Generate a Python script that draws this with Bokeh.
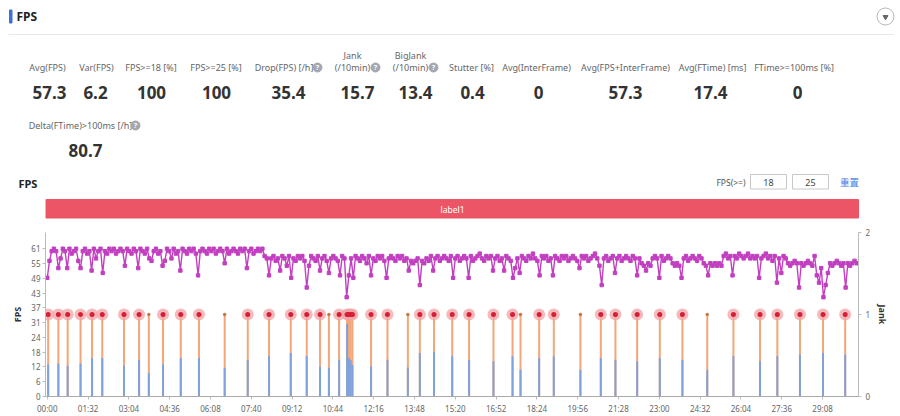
from bokeh.plotting import figure
from bokeh.models import Range1d, LinearAxis, FixedTicker
from bokeh.layouts import column
from bokeh.embed import file_html
from bokeh.resources import INLINE
from bokeh.core.properties import value

FONT = "Noto Sans"
CJK = "Noto Sans CJK SC"

# ---------------- data ----------------
STAT_LABELS = ["Avg(FPS)", "Var(FPS)", "FPS>=18 [%]", "FPS>=25 [%]", "Drop(FPS) [/h]",
               "Jank\n(/10min)", "BigJank\n(/10min)", "Stutter [%]", "Avg(InterFrame)",
               "Avg(FPS+InterFrame)", "Avg(FTime) [ms]", "FTime>=100ms [%]",
               "Delta(FTime)>100ms [/h]"]
STAT_VALUES = ["57.3", "6.2", "100", "100", "35.4", "15.7", "13.4", "0.4", "0",
               "57.3", "17.4", "0", "80.7"]
STAT_HELP = [False, False, False, False, True, True, True, False, False, False, False,
             False, True]

THRESHOLDS = ["18", "25"]
SEGMENT_LABEL = "label1"

SAMPLE_STEP = 5  # seconds between FPS samples
FPS = [
    49, 56, 60, 61, 60, 53, 57, 61, 60, 53, 61, 59, 60, 61, 56, 53, 60, 61, 59, 60,
    52, 61, 57, 60, 61, 51, 60, 59, 61, 60, 61, 59, 60, 61, 60, 54, 61, 60, 59, 61,
    60, 53, 61, 60, 59, 61, 57, 56, 60, 61, 59, 60, 54, 56, 61, 60, 57, 61, 59, 60,
    52, 61, 60, 59, 61, 60, 61, 59, 50, 60, 61, 60, 59, 61, 60, 61, 59, 60, 61, 60,
    55, 61, 59, 60, 61, 60, 59, 61, 60, 61, 53, 60, 61, 59, 60, 61, 60, 61, 58, 57,
    50, 57, 58, 56, 57, 52, 58, 57, 54, 58, 49, 57, 56, 58, 57, 58, 56, 45, 54, 58,
    57, 56, 58, 52, 57, 58, 56, 51, 57, 58, 57, 56, 50, 58, 57, 41, 50, 57, 49, 58,
    57, 56, 58, 57, 55, 58, 50, 57, 56, 58, 57, 58, 56, 49, 57, 58, 57, 56, 58, 57,
    58, 56, 57, 52, 56, 55, 56, 57, 46, 56, 55, 57, 56, 58, 52, 57, 58, 56, 57, 58,
    57, 56, 58, 49, 57, 58, 56, 57, 58, 57, 49, 58, 56, 57, 58, 59, 57, 56, 58, 57,
    58, 52, 57, 58, 56, 57, 52, 58, 57, 56, 49, 53, 57, 51, 58, 57, 56, 58, 57, 59,
    57, 56, 50, 58, 57, 58, 56, 57, 50, 58, 57, 56, 58, 57, 58, 56, 57, 58, 57, 56,
    53, 58, 57, 58, 56, 57, 58, 59, 57, 54, 46, 57, 58, 56, 57, 58, 51, 57, 58, 56,
    57, 58, 57, 56, 58, 57, 50, 57, 55, 54, 52, 55, 54, 57, 58, 57, 49, 58, 56, 57,
    58, 57, 55, 54, 55, 54, 49, 57, 58, 56, 57, 58, 57, 56, 58, 57, 55, 54, 50, 55,
    54, 55, 54, 55, 54, 58, 59, 57, 58, 50, 58, 57, 59, 58, 57, 58, 59, 57, 58, 57,
    58, 49, 57, 58, 59, 57, 58, 56, 58, 47, 57, 51, 58, 57, 55, 54, 55, 56, 55, 45,
    55, 54, 55, 56, 55, 54, 58, 50, 47, 53, 41, 46, 51, 55, 54, 55, 56, 55, 54, 55,
    45, 55, 54, 55, 56, 55,
]
FPS_TIME = [i * SAMPLE_STEP for i in range(len(FPS))]

# jank events: time [s], lower (blue) part in FPS units, jank level, big marker?
JANK_T = [2, 25, 46, 75, 101, 124, 173, 207, 229, 261, 301, 342, 400, 452, 500, 549, 585,
          615, 635, 658, 676, 680, 684, 688, 730, 767, 813, 840, 872, 913, 951, 1006, 1049,
          1067, 1109, 1142, 1202, 1248, 1281, 1330, 1381, 1432, 1488, 1547, 1607, 1646,
          1697, 1749, 1799]
JANK_LOW = [13.2, 13.6, 12.7, 13.6, 15.9, 15.9, 12.7, 15.2, 9.7, 13.2, 15.9, 15.9, 11.9,
            15.2, 16.6, 18.0, 16.6, 12.3, 11.9, 15.2, 30.0, 15.9, 15.0, 13.0, 12.5, 15.2,
            12.0, 18.0, 18.5, 16.6, 15.2, 14.5, 16.6, 11.0, 15.9, 16.6, 11.0, 15.9, 15.2,
            14.5, 15.9, 15.2, 11.0, 16.6, 14.5, 16.6, 17.3, 18.0, 17.3]
JANK_LEVEL = [1, 1, 1, 1, 1, 1, 1, 1, 1, 1, 1, 1, 1, 1, 1, 1, 1, 1, 1, 1, 1, 1, 1, 1, 1,
              1, 1, 1, 1, 1, 1, 1, 1, 1, 1, 1, 1, 1, 1, 1, 1, 1, 1, 1, 1, 1, 1, 1, 1]
JANK_BIG = [True, True, True, True, True, True, True, True, False, True, True, True, False,
            True, True, True, True, True, False, True, True, True, True, True, True, True,
            False, True, True, True, True, True, True, False, True, True, False, True, True,
            True, True, True, False, True, True, True, True, True, True]

TIME_TICKS = [0, 92, 184, 276, 368, 460, 552, 644, 736, 828, 920, 1012, 1104, 1196, 1288,
              1380, 1472, 1564, 1656, 1748]
TIME_LABELS = ["00:00", "01:32", "03:04", "04:36", "06:08", "07:40", "09:12", "10:44",
               "12:16", "13:48", "15:20", "16:52", "18:24", "19:56", "21:28", "23:00",
               "24:32", "26:04", "27:36", "29:08"]
FPS_TICKS = [0, 6.1, 12.2, 18.3, 24.4, 30.5, 36.6, 42.7, 48.8, 54.9, 61.0]
FPS_TICK_LABELS = ["0", "6", "12", "18", "24", "31", "37", "43", "49", "55", "61"]
FPS_MAX = 67.7
JANK_TICKS = [0, 1, 2]

# ---------------- layout (page pixel coordinates) ----------------
W = 900
H_TOP = 225
H_CHART = 191
LABEL_X = [47, 96, 150.5, 215.5, 283.5, 352, 410, 471, 536, 625, 712, 793.5, 80]
VALUE_X = [49, 95, 151, 216, 288, 357, 415, 472, 538, 625, 710, 797, 85]
HELP_X = [None, None, None, None, 317, 375, 433, None, None, None, None, None, 135]

top = figure(width=W, height=H_TOP, x_range=Range1d(0, W), y_range=Range1d(H_TOP, 0),
             output_backend="svg", toolbar_location=None, x_axis_location=None,
             y_axis_location=None, min_border=0)
top.frame_align = False
top.outline_line_color = None
top.grid.visible = False
top.background_fill_color = "white"
top.border_fill_color = "white"


def txt(fig, x, y, t, size, color, align="center", bold=False, font=FONT, baseline="middle"):
    fig.text(x=x, y=y, text=t, text_align=align, text_baseline=baseline,
             text_font=value(font), text_font_size=value(size), text_color=color,
             text_font_style="bold" if bold else "normal")


# panel header
top.quad(left=[9], right=[11.5], top=[9.5], bottom=[22.5], color="#3b73d9")
txt(top, [16], [16], ["FPS"], "12px", "#222222", align="left", bold=True)
top.segment(x0=[8], x1=[893], y0=[34], y1=[34], line_color="#e8e8e8", line_width=1)
top.scatter(x=[885], y=[16], size=17, marker="circle", fill_color="white",
            line_color="#b5b5b5", line_width=1)
top.scatter(x=[885], y=[16.5], size=5, marker="inverted_triangle", color="#666666")

# statistics
lab_x, lab_y, lab_t = [], [], []
val_x, val_y = [], []
help_x, help_y = [], []
for i, lab in enumerate(STAT_LABELS):
    second_row = i == len(STAT_LABELS) - 1
    ly = 125 if second_row else 67
    vy = 150 if second_row else 92
    parts = lab.split("\n")
    if len(parts) == 2:
        lab_x += [LABEL_X[i], LABEL_X[i]]
        lab_y += [ly - 12, ly]
        lab_t += parts
    else:
        lab_x.append(LABEL_X[i])
        lab_y.append(ly)
        lab_t.append(lab)
    val_x.append(VALUE_X[i])
    val_y.append(vy)
    if STAT_HELP[i]:
        help_x.append(HELP_X[i])
        help_y.append(ly)

txt(top, lab_x, lab_y, lab_t, "9px", "#666666")
txt(top, val_x, val_y, STAT_VALUES, "17px", "#333333", bold=True)
top.scatter(x=help_x, y=help_y, size=9, marker="circle", color="#a3a8b0")
txt(top, help_x, [y + 0.3 for y in help_y], ["?"] * len(help_x), "7px", "white", bold=True)

# chart header
txt(top, [18], [183], ["FPS"], "11px", "#222222", align="left", bold=True)
txt(top, [745], [181.5], ["FPS(>=)"], "8.5px", "#555555", align="right")
top.quad(left=[750, 792], right=[786, 828], top=[174, 174], bottom=[188.5, 188.5],
         fill_color="white", line_color="#c8c8c8", line_width=1)
txt(top, [768, 810], [181.5, 181.5], THRESHOLDS, "9px", "#444444")
txt(top, [849], [181.5], ["重置"], "9.5px", "#3d7de4", font=CJK)
top.quad(left=[45.5], right=[858], top=[199], bottom=[217.5], color="#ec5565")
txt(top, [452], [208.5], [SEGMENT_LABEL], "8.5px", "white")

# ---------------- chart ----------------
ch = figure(width=W, height=H_CHART, x_range=Range1d(-4, 1829), y_range=Range1d(0, FPS_MAX),
            output_backend="svg", toolbar_location=None, min_border_left=45,
            min_border_right=42, min_border_top=7, min_border_bottom=19)
ch.frame_align = False
ch.extra_y_ranges = {"jank": Range1d(0, 2)}
ch.outline_line_color = None
ch.grid.visible = False
ch.background_fill_color = "white"
ch.border_fill_color = "white"

AX_COL = "#bcbcbc"


def style_axis(ax):
    ax.axis_line_color = AX_COL
    ax.major_tick_line_color = AX_COL
    ax.minor_tick_line_color = None
    ax.major_tick_out = 3
    ax.major_tick_in = 0
    ax.major_label_text_font = FONT
    ax.major_label_text_font_size = "8px"
    ax.major_label_text_color = "#666666"
    ax.major_label_standoff = 2
    ax.axis_label_text_font = FONT
    ax.axis_label_text_font_size = "9px"
    ax.axis_label_text_font_style = "bold"
    ax.axis_label_text_color = "#333333"


xax = ch.xaxis[0]
style_axis(xax)
xax.ticker = FixedTicker(ticks=TIME_TICKS)
xax.major_label_overrides = dict(zip(TIME_TICKS, TIME_LABELS))
xax.major_label_standoff = 3
xax.axis_line_color = "#aaaaaa"

lax = ch.yaxis[0]
style_axis(lax)
lax.ticker = FixedTicker(ticks=FPS_TICKS)
lax.major_label_overrides = dict(zip(FPS_TICKS, FPS_TICK_LABELS))
lax.axis_label = "FPS"
lax.axis_label_standoff = 4

rax = LinearAxis(y_range_name="jank", ticker=FixedTicker(ticks=JANK_TICKS), axis_label="Jank")
style_axis(rax)
rax.major_label_standoff = 4
rax.axis_label_standoff = 3
ch.add_layout(rax, "right")

# jank bars
zeros = [0 for _ in JANK_T]
ch.segment(x0=JANK_T, x1=JANK_T, y0=zeros, y1=JANK_LEVEL, y_range_name="jank",
           line_color="#f3a679", line_width=2)
ch.segment(x0=JANK_T, x1=JANK_T, y0=zeros, y1=JANK_LOW, line_color="#80a2da", line_width=2)

big_t = [t for t, b in zip(JANK_T, JANK_BIG) if b]
big_v = [v for v, b in zip(JANK_LEVEL, JANK_BIG) if b]
small_t = [t for t, b in zip(JANK_T, JANK_BIG) if not b]
small_v = [v for v, b in zip(JANK_LEVEL, JANK_BIG) if not b]
ch.scatter(x=big_t, y=big_v, y_range_name="jank", size=12, marker="circle",
           fill_color="#f3a3a6", fill_alpha=0.75, line_color=None)
ch.scatter(x=big_t, y=big_v, y_range_name="jank", size=5, marker="circle",
           fill_color="#d51f37", line_color=None)
ch.scatter(x=small_t, y=small_v, y_range_name="jank", size=3.5, marker="circle",
           fill_color="#c47a48", line_color=None)

# FPS line
ch.line(x=FPS_TIME, y=FPS, line_color="#c23fc0", line_width=1.4)
ch.scatter(x=FPS_TIME, y=FPS, marker="square", size=3.4, color="#c23fc0")

layout = column(top, ch)
open("out.html", "w").write(file_html(layout, INLINE))
